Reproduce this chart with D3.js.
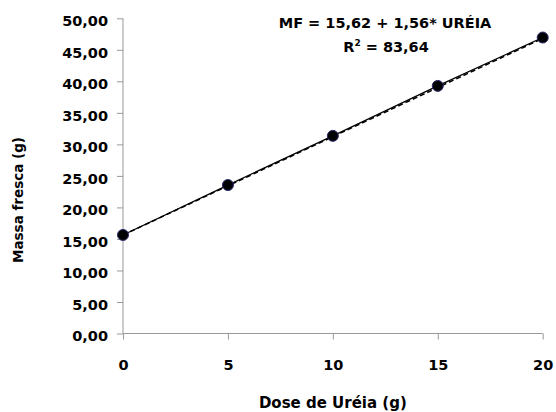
<!DOCTYPE html>
<html><head><meta charset="utf-8">
<script src="https://cdn.jsdelivr.net/npm/d3@7"></script>
<style>
body{margin:0;background:#fff;}
text{font-family:"DejaVu Sans",sans-serif;font-weight:bold;fill:#000;}
</style></head>
<body>
<svg id="c" width="556" height="412"></svg>
<script>
const doses = [0, 5, 10, 15, 20];
const massa = [15.63, 23.55, 31.35, 39.28, 46.95];
const xTicks = [0, 5, 10, 15, 20];
const yTicks = [0, 5, 10, 15, 20, 25, 30, 35, 40, 45, 50];
const intercept = 15.62, slope = 1.56;
const eqText = "MF = 15,62 + 1,56* URÉIA";
const r2Value = "83,64";

const svg = d3.select("#c");
const x = d3.scaleLinear().domain([0, 20]).range([123, 542.7]);
const y = d3.scaleLinear().domain([0, 50]).range([333.5, 18.3]);
const fmt = v => d3.format(".2f")(v).replace(".", ",");

// axes
const yAx = svg.append("g").attr("transform", `translate(${x(0)},0)`)
  .call(d3.axisLeft(y).tickValues(yTicks).tickSize(6).tickPadding(9).tickFormat(fmt));
yAx.selectAll("path,line").attr("stroke", "#999");
yAx.select(".domain").attr("d", `M0,${y(50)}V${y(0)}`);
yAx.selectAll("text").attr("font-size", 14.5).attr("font-family", "DejaVu Sans").attr("font-weight", "bold").attr("dy", "0.5em");

const xAx = svg.append("g").attr("transform", `translate(0,${y(0)})`)
  .call(d3.axisBottom(x).tickValues(xTicks).tickSize(6).tickPadding(20).tickFormat(d3.format("d")));
xAx.selectAll("path,line").attr("stroke", "#999");
xAx.select(".domain").attr("d", `M${x(0)},0H${x(20)}`);
xAx.selectAll("text").attr("font-size", 14.5).attr("font-family", "DejaVu Sans").attr("font-weight", "bold");

// trend line (dashed)
svg.append("line")
  .attr("x1", x(0)).attr("y1", y(intercept))
  .attr("x2", x(20)).attr("y2", y(intercept + slope * 20))
  .attr("stroke", "#000").attr("stroke-width", 1.5).attr("stroke-dasharray", "5,3");

// data line
const pts = doses.map((d, i) => [d, massa[i]]);
svg.append("path").datum(pts)
  .attr("d", d3.line().x(d => x(d[0])).y(d => y(d[1])))
  .attr("fill", "none").attr("stroke", "#000").attr("stroke-width", 1.3);

svg.selectAll("circle").data(pts).enter().append("circle")
  .attr("cx", d => x(d[0])).attr("cy", d => y(d[1])).attr("r", 5.5)
  .attr("fill", "#000").attr("stroke", "#2a2a6e").attr("stroke-width", 1);

// equation
svg.append("text").attr("x", 385).attr("y", 28).attr("text-anchor", "middle")
  .attr("font-size", 14.5).text(eqText);
const r2 = svg.append("text").attr("x", 386).attr("y", 52).attr("text-anchor", "middle").attr("font-size", 14.5);
r2.append("tspan").text("R");
r2.append("tspan").attr("font-size", 9).attr("dy", -6).text("2");
r2.append("tspan").attr("dy", 6).text(" = " + r2Value);

// axis titles
svg.append("text").attr("x", (x(0) + x(20)) / 2).attr("y", 408).attr("text-anchor", "middle")
  .attr("font-size", 15).text("Dose de Uréia (g)");
svg.append("text").attr("transform", "translate(23,200) rotate(-90)").attr("text-anchor", "middle")
  .attr("font-size", 13.5).text("Massa fresca (g)");
</script>
</body></html>
